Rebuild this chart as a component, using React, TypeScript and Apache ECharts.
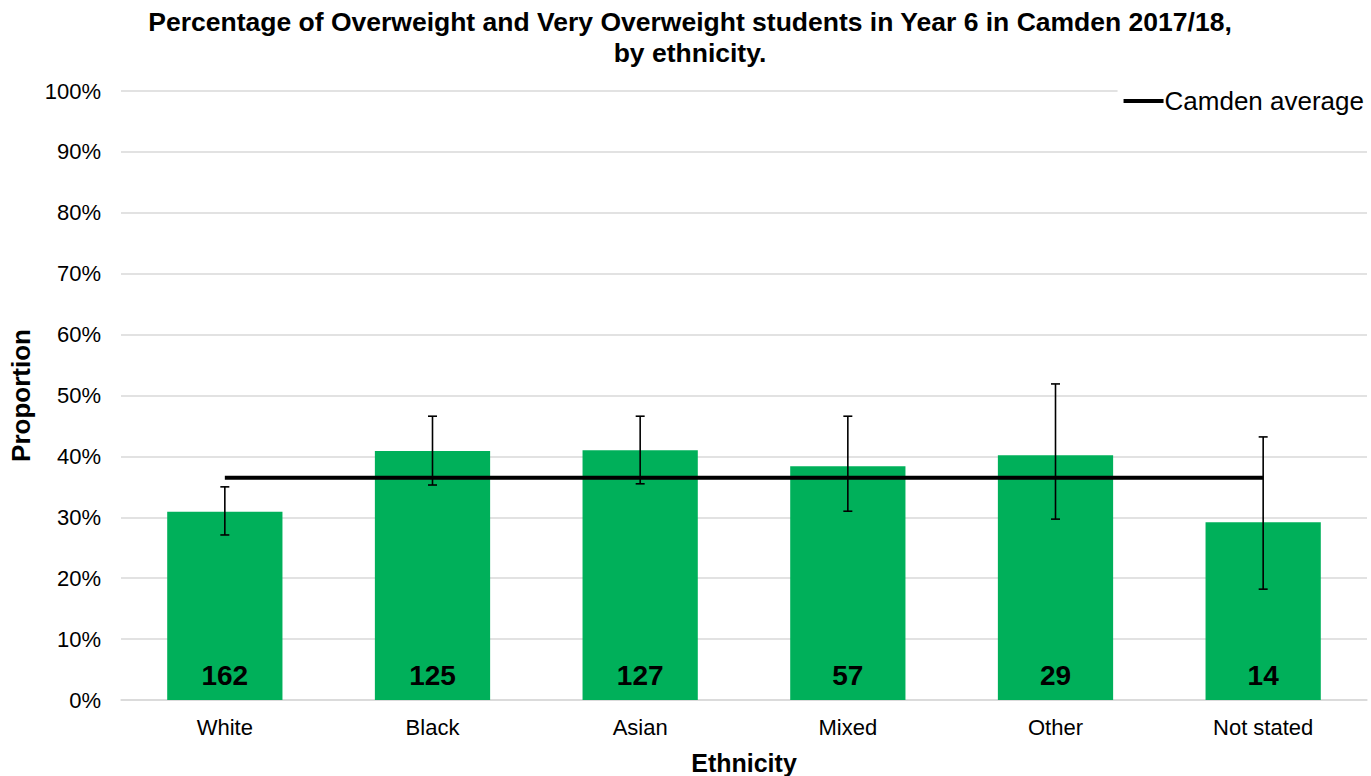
import React, { useEffect, useRef } from "react";
import * as echarts from "echarts";

const categories = ["White", "Black", "Asian", "Mixed", "Other", "Not stated"];
const proportions = [30.9, 40.9, 41.0, 38.4, 40.2, 29.2];
const lowerCI = [27.1, 35.3, 35.5, 31.0, 29.7, 18.2];
const upperCI = [35.0, 46.6, 46.6, 46.6, 51.9, 43.2];
const counts = [162, 125, 127, 57, 29, 14];
const camdenAverage = 36.5;
const yTicks = [0, 10, 20, 30, 40, 50, 60, 70, 80, 90, 100];

const FONT = "Liberation Sans, Arial, sans-serif";

export default function App() {
  const ref = useRef<HTMLDivElement>(null);
  useEffect(() => {
    if (!ref.current) return;
    const chart = echarts.init(ref.current, null, { renderer: "svg" });
    const errData = categories.map((_, i) => [i, lowerCI[i], upperCI[i]]);
    chart.setOption({
      animation: false,
      textStyle: { fontFamily: FONT },
      title: {
        text: "Percentage of Overweight and Very Overweight students in Year 6 in Camden 2017/18,\nby ethnicity.",
        left: 685,
        top: 1,
        textAlign: "center",
        textStyle: { fontFamily: FONT, fontSize: 26.5, fontWeight: "bold", color: "#000", lineHeight: 31 },
      },
      legend: {
        right: 2,
        top: 84,
        itemWidth: 40,
        itemHeight: 4,
        itemGap: 5,
        padding: [4, 5, 4, 6],
        backgroundColor: "#fff",
        z: 10,
        data: [{ name: "Camden average", icon: "rect" }],
        textStyle: { fontFamily: FONT, fontSize: 26, color: "#000", padding: [0, 0, 0, -4] },
      },
      grid: {
        left: 121,
        right: 4,
        top: 91,
        bottom: 76,
        containLabel: false,
        outerBoundsMode: "none",
      },
      xAxis: {
        type: "category",
        data: categories,
        name: "Ethnicity",
        nameLocation: "middle",
        nameGap: 50,
        nameTextStyle: { fontFamily: FONT, fontSize: 25, fontWeight: "bold", color: "#000" },
        axisLine: { show: true, lineStyle: { color: "#d9d9d9", width: 1.5 } },
        axisTick: { show: false },
        axisLabel: { fontFamily: FONT, fontSize: 22, color: "#000", margin: 16 },
      },
      yAxis: {
        type: "value",
        min: 0,
        max: 100,
        interval: 10,
        name: "Proportion",
        nameLocation: "middle",
        nameGap: 87,
        nameRotate: 90,
        nameTextStyle: { fontFamily: FONT, fontSize: 26, fontWeight: "bold", color: "#000" },
        axisLine: { show: false },
        axisTick: { show: false },
        splitLine: { lineStyle: { color: "#d9d9d9", width: 1.5 } },
        axisLabel: {
          fontFamily: FONT,
          fontSize: 22,
          color: "#000",
          margin: 20,
          formatter: (v: number) => (yTicks.includes(v) ? v + "%" : ""),
        },
      },
      series: [
        {
          name: "Proportion",
          type: "bar",
          data: proportions,
          barWidth: "55.5%",
          itemStyle: { color: "#00b05a" },
          label: {
            show: true,
            position: "insideBottom",
            distance: 11,
            fontFamily: FONT,
            fontSize: 28,
            fontWeight: "bold",
            color: "#000",
            formatter: (p: any) => String(counts[p.dataIndex]),
          },
          z: 2,
        },
        {
          name: "CI",
          type: "custom",
          data: errData,
          z: 5,
          renderItem: (params: any, api: any) => {
            const x = api.value(0);
            const lo = api.coord([x, api.value(1)]);
            const hi = api.coord([x, api.value(2)]);
            const cx = lo[0];
            const hw = 4.5;
            const style = { stroke: "#000", lineWidth: 1.6 };
            return {
              type: "group",
              children: [
                { type: "line", shape: { x1: cx, y1: lo[1], x2: cx, y2: hi[1] }, style },
                { type: "line", shape: { x1: cx - hw, y1: lo[1], x2: cx + hw, y2: lo[1] }, style },
                { type: "line", shape: { x1: cx - hw, y1: hi[1], x2: cx + hw, y2: hi[1] }, style },
              ],
            };
          },
        },
        {
          name: "Camden average",
          type: "line",
          data: categories.map(() => camdenAverage),
          symbol: "none",
          itemStyle: { color: "#000" },
          lineStyle: { color: "#000", width: 4 },
          z: 4,
        },
      ],
    });
    return () => chart.dispose();
  }, []);
  return (
    <div
      ref={ref}
      style={{ position: "absolute", left: 0, top: 0, width: 1371, height: 776, background: "#fff" }}
    />
  );
}
